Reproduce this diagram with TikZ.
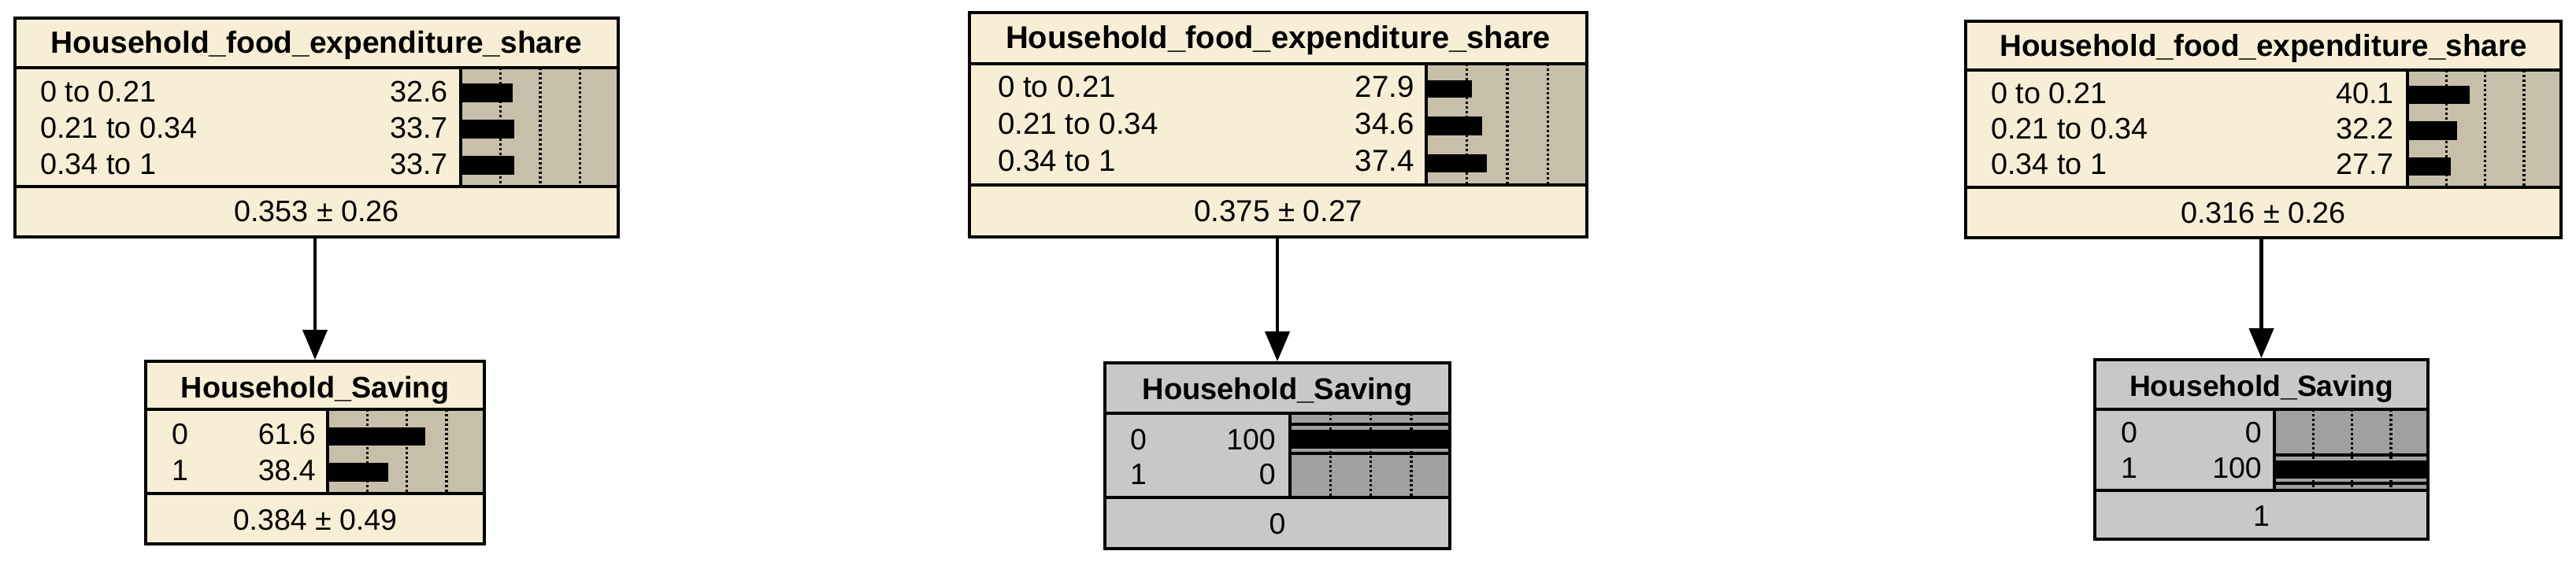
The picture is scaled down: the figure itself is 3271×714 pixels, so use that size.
\documentclass[tikz,border=0pt]{standalone}
\usepackage{fontspec}
\setmainfont{Liberation Sans}
\usetikzlibrary{arrows.meta}
\definecolor{beige}{RGB}{248,238,214}
\definecolor{barbeige}{RGB}{199,191,170}
\definecolor{ngray}{RGB}{200,200,200}
\definecolor{bargray}{RGB}{160,160,160}
\newcommand\hbtitle[1]{\fontsize{#1}{#1}\selectfont\bfseries}
\newcommand\hbtext[1]{\fontsize{#1}{#1}\selectfont}
\begin{document}
\begin{tikzpicture}[x=1pt,y=-1pt,
  frame/.style={draw=black, line width=4pt, inner sep=0},
  sepline/.style={line width=4pt},
  gridline/.style={line width=3.5pt, dash pattern=on 3pt off 3pt},
  bar/.style={fill=black},
  lbl/.style={inner sep=0, anchor=base west},
  val/.style={inner sep=0, anchor=base east},
  ttl/.style={inner sep=0, anchor=base},
  link/.style={line width=4.5pt, -{Triangle[length=38pt,width=31pt]}}
]
\useasboundingbox[fill=white] (0,0) rectangle (3271,714);

% ---------- Panel 1 (top left) ----------
\fill[beige] (17,21) rectangle (787,303);
\fill[barbeige] (585,86) rectangle (787,237);
\foreach \gx in {635.5,686,736.5} \draw[gridline] (\gx,86) -- (\gx,237);
\fill[bar] (585,106) rectangle (650.9,130);
\fill[bar] (585,152) rectangle (653.1,176);
\fill[bar] (585,198) rectangle (653.1,222);
\draw[sepline] (17,86) -- (787,86) (17,237) -- (787,237) (585,86) -- (585,237);
\node[frame, minimum width=766pt, minimum height=278pt] (p1) at (402,162) {};
\node[ttl, font=\hbtitle{38.9}] (p1t) at (402,68) {Household\_food\_expenditure\_share};
\node[lbl, font=\hbtext{37.8}] (p1a) at (51,129.5) {0 to 0.21};
\node[lbl, font=\hbtext{37.8}] (p1b) at (51,175.5) {0.21 to 0.34};
\node[lbl, font=\hbtext{37.8}] (p1c) at (51,221.5) {0.34 to 1};
\node[val, font=\hbtext{37.8}] (p1av) at (569,129.5) {32.6};
\node[val, font=\hbtext{37.8}] (p1bv) at (569,175.5) {33.7};
\node[val, font=\hbtext{37.8}] (p1cv) at (569,221.5) {33.7};
\node[ttl, font=\hbtext{37.8}] (p1m) at (402,281) {0.353 ± 0.26};

% ---------- Panel 2 (bottom left) ----------
\fill[beige] (183,457) rectangle (617,693);
\fill[barbeige] (416,520) rectangle (617,627);
\foreach \gx in {466.25,516.5,566.75} \draw[gridline] (\gx,520) -- (\gx,627);
\fill[bar] (416,543) rectangle (539.8,566);
\fill[bar] (416,588) rectangle (493.2,612);
\draw[sepline] (183,520) -- (617,520) (183,627) -- (617,627) (416,520) -- (416,627);
\node[frame, minimum width=430pt, minimum height=232pt] (p2) at (400,575) {};
\node[ttl, font=\hbtitle{37.8}] (p2t) at (400,505) {Household\_Saving};
\node[lbl, font=\hbtext{37.5}] (p2a) at (218,564) {0};
\node[lbl, font=\hbtext{37.5}] (p2b) at (218,610) {1};
\node[val, font=\hbtext{37.5}] (p2av) at (401,564) {61.6};
\node[val, font=\hbtext{37.5}] (p2bv) at (401,610) {38.4};
\node[ttl, font=\hbtext{37.5}] (p2m) at (400,673) {0.384 ± 0.49};

% ---------- Panel 3 (top middle) ----------
\fill[beige] (1229,14) rectangle (2017,303);
\fill[barbeige] (1811,81) rectangle (2017,235);
\foreach \gx in {1862.5,1914,1965.5} \draw[gridline] (\gx,81) -- (\gx,235);
\fill[bar] (1811,102) rectangle (1868.5,124);
\fill[bar] (1811,148) rectangle (1882.3,172);
\fill[bar] (1811,196) rectangle (1888.0,219);
\draw[sepline] (1229,81) -- (2017,81) (1229,235) -- (2017,235) (1811,81) -- (1811,235);
\node[frame, minimum width=784pt, minimum height=285pt] (p3) at (1623,158.5) {};
\node[ttl, font=\hbtitle{39.9}] (p3t) at (1623,62) {Household\_food\_expenditure\_share};
\node[lbl, font=\hbtext{38.5}] (p3a) at (1267,124) {0 to 0.21};
\node[lbl, font=\hbtext{38.5}] (p3b) at (1267,171) {0.21 to 0.34};
\node[lbl, font=\hbtext{38.5}] (p3c) at (1267,218) {0.34 to 1};
\node[val, font=\hbtext{38.5}] (p3av) at (1796,124) {27.9};
\node[val, font=\hbtext{38.5}] (p3bv) at (1796,171) {34.6};
\node[val, font=\hbtext{38.5}] (p3cv) at (1796,218) {37.4};
\node[ttl, font=\hbtext{38.5}] (p3m) at (1623,281) {0.375 ± 0.27};

% ---------- Panel 4 (bottom middle, evidence) ----------
\fill[ngray] (1401,459) rectangle (1843,699);
\fill[bargray] (1638,525) rectangle (1843,632);
\foreach \gx in {1689.25,1740.5,1791.75} \draw[gridline] (\gx,525) -- (\gx,632);
\draw[line width=4pt] (1638,539) -- (1843,539) (1638,575.5) -- (1843,575.5);
\fill[bar] (1638,546) rectangle (1843,570);
\draw[sepline] (1401,525) -- (1843,525) (1401,632) -- (1843,632) (1638,525) -- (1638,632);
\node[frame, minimum width=438pt, minimum height=236pt] (p4) at (1622,579) {};
\node[ttl, font=\hbtitle{38.1}] (p4t) at (1622,507) {Household\_Saving};
\node[lbl, font=\hbtext{37.5}] (p4a) at (1435,571) {0};
\node[lbl, font=\hbtext{37.5}] (p4b) at (1435,615) {1};
\node[val, font=\hbtext{37.5}] (p4av) at (1620,571) {100};
\node[val, font=\hbtext{37.5}] (p4bv) at (1620,615) {0};
\node[ttl, font=\hbtext{37.5}] (p4m) at (1622,678) {0};

% ---------- Panel 5 (top right) ----------
\fill[beige] (2494,25) rectangle (3254,304);
\fill[barbeige] (3057,89) rectangle (3254,238);
\foreach \gx in {3106.25,3155.5,3204.75} \draw[gridline] (\gx,89) -- (\gx,238);
\fill[bar] (3057,109) rectangle (3136.0,132);
\fill[bar] (3057,154) rectangle (3120.4,178);
\fill[bar] (3057,200) rectangle (3111.6,223);
\draw[sepline] (2494,89) -- (3254,89) (2494,238) -- (3254,238) (3057,89) -- (3057,238);
\node[frame, minimum width=756pt, minimum height=275pt] (p5) at (2874,164.5) {};
\node[ttl, font=\hbtitle{38.6}] (p5t) at (2874,72) {Household\_food\_expenditure\_share};
\node[lbl, font=\hbtext{37.8}] (p5a) at (2528,132) {0 to 0.21};
\node[lbl, font=\hbtext{37.8}] (p5b) at (2528,177) {0.21 to 0.34};
\node[lbl, font=\hbtext{37.8}] (p5c) at (2528,222) {0.34 to 1};
\node[val, font=\hbtext{37.8}] (p5av) at (3040,132) {40.1};
\node[val, font=\hbtext{37.8}] (p5bv) at (3040,177) {32.2};
\node[val, font=\hbtext{37.8}] (p5cv) at (3040,222) {27.7};
\node[ttl, font=\hbtext{37.8}] (p5m) at (2874,283) {0.316 ± 0.26};

% ---------- Panel 6 (bottom right, evidence) ----------
\fill[ngray] (2658,455) rectangle (3085,687);
\fill[bargray] (2888,520) rectangle (3085,623);
\foreach \gx in {2937.25,2986.5,3035.75} \draw[gridline] (\gx,520) -- (\gx,623);
\draw[line width=4pt] (2888,578) -- (3085,578) (2888,614) -- (3085,614);
\fill[bar] (2888,585) rectangle (3085,608);
\draw[sepline] (2658,520) -- (3085,520) (2658,623) -- (3085,623) (2888,520) -- (2888,623);
\node[frame, minimum width=423pt, minimum height=228pt] (p6) at (2871.5,571) {};
\node[ttl, font=\hbtitle{37.2}] (p6t) at (2871.5,503) {Household\_Saving};
\node[lbl, font=\hbtext{37.5}] (p6a) at (2693,562) {0};
\node[lbl, font=\hbtext{37.5}] (p6b) at (2693,607) {1};
\node[val, font=\hbtext{37.5}] (p6av) at (2872,562) {0};
\node[val, font=\hbtext{37.5}] (p6bv) at (2872,607) {100};
\node[ttl, font=\hbtext{37.5}] (p6m) at (2871.5,668) {1};

% ---------- Links ----------
\draw[link] (p2.north |- p1.south) -- (p2.north);
\draw[link] (p4.north |- p3.south) -- (p4.north);
\draw[link] (p6.north |- p5.south) -- (p6.north);
\end{tikzpicture}
\end{document}
